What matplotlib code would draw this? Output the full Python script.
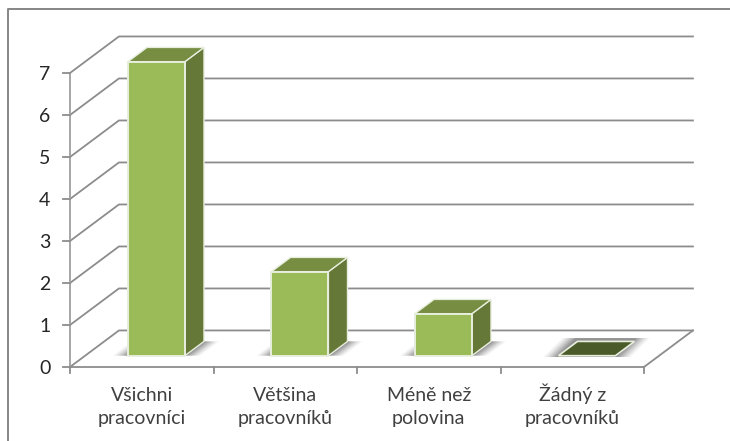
import matplotlib
matplotlib.use('Agg')
import matplotlib.pyplot as plt
from matplotlib.patches import Polygon

categories = ['Všichni\npracovníci', 'Většina\npracovníků', 'Méně než\npolovina', 'Žádný z\npracovníků']
values = [7, 2, 1, 0]
ticks = [0, 1, 2, 3, 4, 5, 6, 7]

W, H = 730, 441
# full depth of the 3d floor, in data units
DX, DY = 0.341, 0.87
GRID = '#8c8c8c'
AXIS = '#a6a6a6'

plt.rcParams['font.family'] = ['Lato', 'DejaVu Sans']

fig = plt.figure(figsize=(W / 100, H / 100), dpi=100)
ax = fig.add_axes([70 / W, 1 - 367 / H, 574 / W, 294 / H])
ax.set_xlim(0, 4)
ax.set_ylim(0, 7)
ax.axis('off')


def off(x, y, d):
    return x + DX * d, y + DY * d


def poly(pts, **kw):
    p = Polygon(pts, closed=True, clip_on=False, **kw)
    ax.add_patch(p)
    return p


# walls: gridlines go along the side wall, then across the back
for t in ticks:
    bx, by = off(0, t, 1)
    ax.plot([0, bx, 4 + DX], [t, by, by], color=GRID, lw=1.3, clip_on=False, zorder=1)

# floor edges
ax.plot([0, 4, 4 + DX], [0, 0, DY], color=GRID, lw=1.3, clip_on=False, zorder=1)

# value axis with ticks
ax.plot([0, 0], [0, 7], color=AXIS, lw=1.4, clip_on=False, zorder=2)
for t in ticks:
    ax.plot([-0.05, 0], [t, t], color=GRID, lw=1.3, clip_on=False, zorder=2)
    ax.text(-0.175, t - 0.03, str(t), ha='center', va='center', fontsize=14, color='#262626')

# category ticks and labels, one baseline per line so carons don't shift them
for i in range(5):
    ax.plot([i, i], [0, -0.15], color=GRID, lw=1.3, clip_on=False, zorder=2)
for i, c in enumerate(categories):
    for line, y in zip(c.split('\n'), [-0.81, -1.36]):
        ax.text(i + 0.5, y, line, ha='center', va='baseline', fontsize=14, color='#404040')

# bars
D0, D1 = 0.31, 0.70
for i, v in enumerate(values):
    x0, x1 = i + 0.298, i + 0.695
    fl, fb = off(x0, 0, D0), off(x1, 0, D0)
    bl, bb = off(x0, 0, D1), off(x1, 0, D1)

    # soft shadow on the floor, darker towards the bar
    for grow, a in [(0.105, 0.06), (0.09, 0.08), (0.075, 0.1), (0.06, 0.12), (0.045, 0.14), (0.03, 0.18), (0.015, 0.22)]:
        up = 0.08 if v == 0 else 0.0
        poly([(fl[0] - grow, fl[1] - up * 0.4), (fb[0] + grow, fb[1] - up * 0.4),
              (bb[0] + grow, bb[1] + up), (bl[0] - grow, bl[1] + up)],
             facecolor='#555555', edgecolor='none', alpha=a, zorder=3)

    if v == 0:
        poly([fl, fb, bb, bl], facecolor='#4a5a28', edgecolor='#e8eedd', lw=1.2, zorder=4)
        continue

    top = [(fl[0], fl[1] + v), (fb[0], fb[1] + v), (bb[0], bb[1] + v), (bl[0], bl[1] + v)]
    poly([fb, bb, top[2], top[1]], facecolor='#667837', edgecolor='#e8eedd', lw=1.0, zorder=4)
    poly(top, facecolor='#768d42', edgecolor='#e8eedd', lw=1.0, zorder=5)
    poly([fl, fb, top[1], top[0]], facecolor='#9bbb59', edgecolor='#e8eedd', lw=1.4, zorder=6)

# outer frame of the chart: only top and left show in the picture
fig.add_artist(plt.Line2D([8 / W, 8 / W, 1], [0, 1 - 9 / H, 1 - 9 / H], color='#868686', lw=1.4))

fig.savefig('out.png', dpi=100)
